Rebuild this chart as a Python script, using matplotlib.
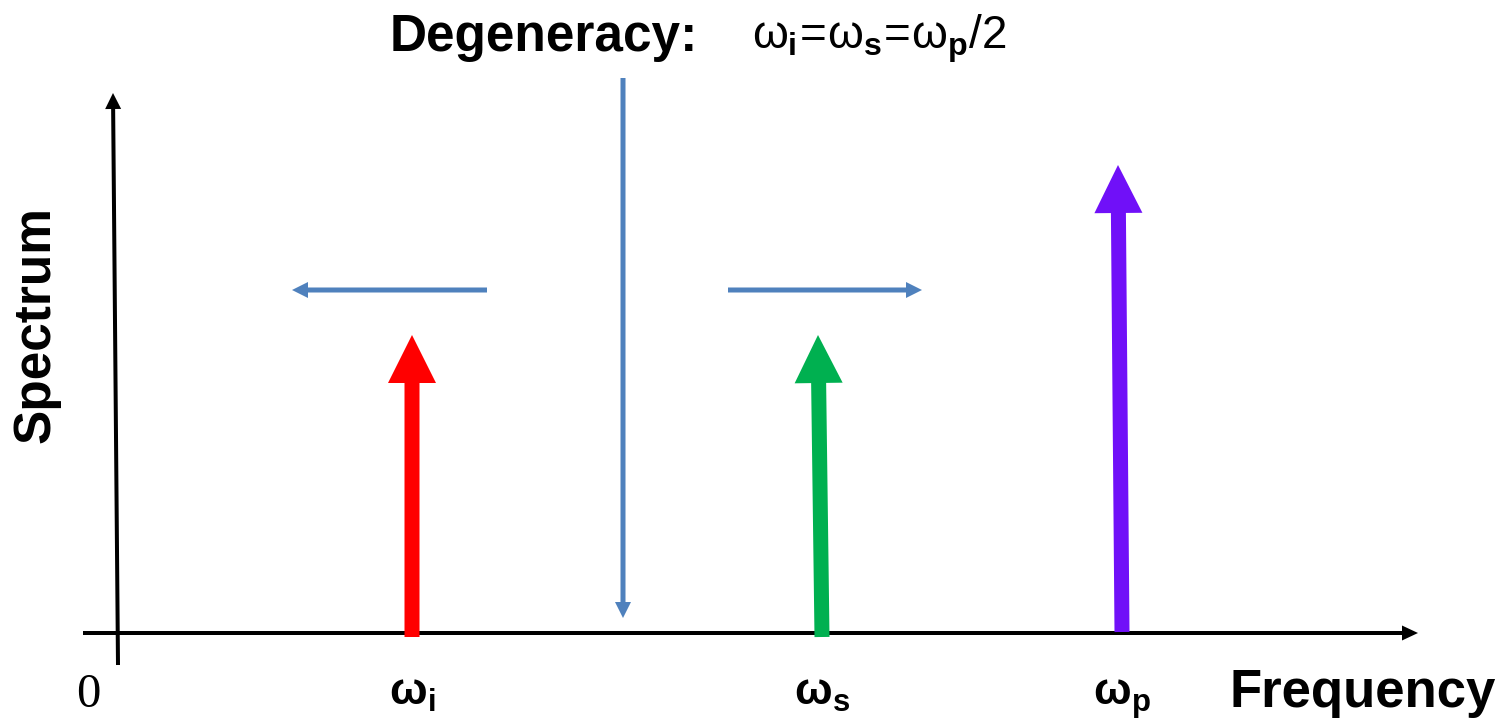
import matplotlib
matplotlib.use("Agg")
import matplotlib.pyplot as plt

plt.rcParams['font.family'] = ['Liberation Sans', 'DejaVu Sans']
plt.rcParams['mathtext.fontset'] = 'custom'
plt.rcParams['mathtext.rm'] = 'Liberation Sans'
plt.rcParams['mathtext.it'] = 'Liberation Sans'
plt.rcParams['mathtext.bf'] = 'Liberation Sans:bold'

# spectral lines: idler, signal, pump (frequency, height in spectrum units)
line_labels = [r'$\mathbf{\omega_i}$', r'$\mathbf{\omega_s}$', r'$\mathbf{\omega_p}$']
line_freq = [294, 704, 1004]
line_tip_shift = [0, -4, -4]
line_height = [298, 298, 468]
line_base = [-4, -4, 1]
line_colors = ['#ff0000', '#00b050', '#7010f8']

# degeneracy point and the two shift arrows
degen_freq = 505
degen_top, degen_bottom = 555, 15
shift_level = 343
shift_left = [369, 174]
shift_right = [610, 804]
blue = '#4f81bd'

fig = plt.figure(figsize=(15.12, 7.19), dpi=100)
ax = fig.add_axes([0, 0, 1, 1])
ax.set_xlim(-118, 1394)
ax.set_ylim(-86, 633)
ax.axis('off')

# axes of the diagram
ax.arrow(-35, 0, 1335, 0, width=4, head_width=15, head_length=16,
         length_includes_head=True, color='black', lw=0)
ax.arrow(0, -32, -5, 572, width=4, head_width=16, head_length=16,
         length_includes_head=True, color='black', lw=0)

# spectral lines
for f, sh, h, b, c in zip(line_freq, line_tip_shift, line_height, line_base, line_colors):
    ax.arrow(f, b, sh, h - b, width=15, head_width=48, head_length=48,
             length_includes_head=True, color=c, lw=0)

# degeneracy arrows
ax.arrow(degen_freq, degen_top, 0, degen_bottom - degen_top, width=5,
         head_width=16, head_length=16, length_includes_head=True, color=blue, lw=0)
for x0, x1 in (shift_left, shift_right):
    ax.arrow(x0, shift_level, x1 - x0, 0, width=5, head_width=16, head_length=16,
             length_includes_head=True, color=blue, lw=0)

# labels
for f, lab in zip(line_freq, line_labels):
    ax.text(f, -72, lab, fontsize=32, ha='center', va='baseline')
ax.text(-30, -74, '0', fontsize=35, family='Liberation Serif', ha='center', va='baseline')
ax.text(1378, -74, 'Frequency', fontsize=38, fontweight='bold', ha='right', va='baseline')
ax.text(-82, 308, 'Spectrum', fontsize=37, fontweight='bold', rotation=90,
        ha='center', va='center')
ax.text(272, 596, 'Degeneracy:', fontsize=37, fontweight='bold', ha='left', va='center')
ax.text(634, 594, r'$\omega_\mathbf{i}\!=\!\omega_\mathbf{s}\!=\!\omega_\mathbf{p}/2$',
        fontsize=33, ha='left', va='center')

fig.savefig('out.png', dpi=100)
